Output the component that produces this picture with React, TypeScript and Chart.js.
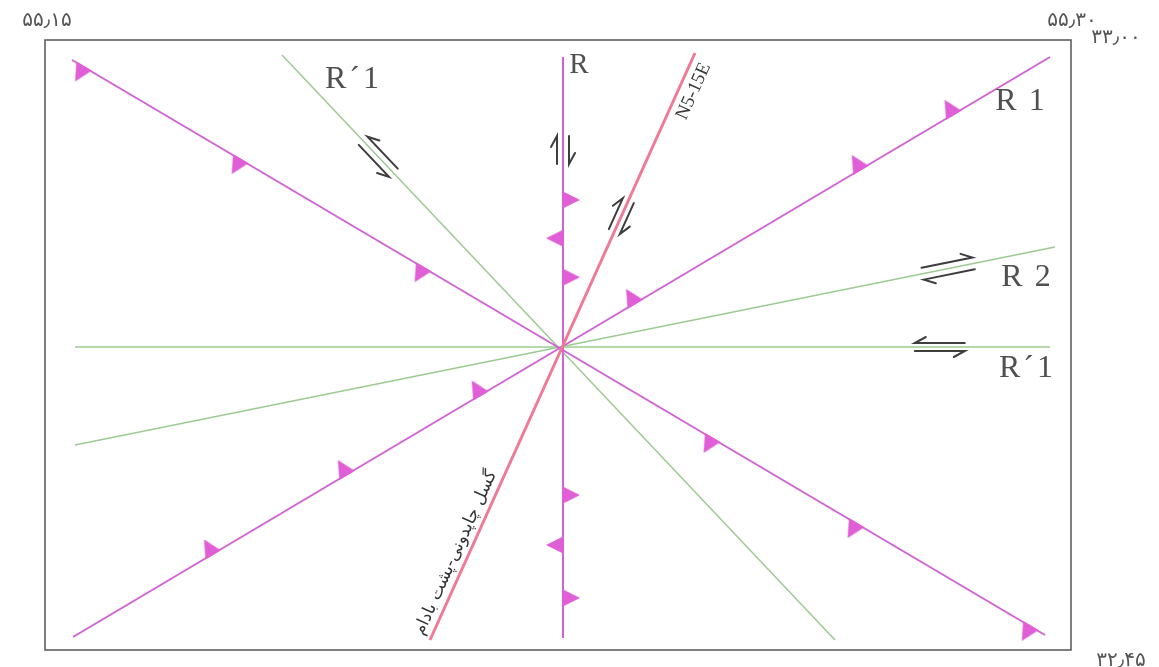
import { useEffect, useRef } from "react";
import { Chart, registerables } from "chart.js";

Chart.register(...registerables);

// Fault traces in frame units (x: 0–1026 from the west edge, y: 0–610 from the south edge)
const faultNames = ["R", "N5-15E", "R1", "NW-SE thrust", "R´1 NW", "R2", "R´1 E-W"];
const faultX0 = [518, 385, 28, 27, 237, 30, 30];
const faultY0 = [12, 10, 13, 590, 595, 205, 303];
const faultX1 = [518, 650, 1005, 1000, 790, 1010, 1005];
const faultY1 = [593, 597, 593, 15, 10, 403, 303];
const faultKind = ["thrust", "main", "thrust", "thrust", "riedel", "riedel", "riedel"];

// Thrust teeth: fault index, position along the trace (0–1), side (+1 right-hand, -1 left-hand)
const toothFault = [0, 0, 0, 0, 0, 0, 2, 2, 2, 2, 2, 2, 3, 3, 3, 3, 3, 3];
const toothT = [0.069, 0.16, 0.246, 0.621, 0.688, 0.754, 0.143, 0.28, 0.417, 0.575, 0.806, 0.901, 0.012, 0.173, 0.361, 0.658, 0.806, 0.985];
const toothSide = [1, -1, 1, 1, -1, 1, -1, -1, -1, -1, -1, -1, 1, 1, 1, 1, 1, 1];

// Shear-sense half arrows: fault index, position along the trace, dextral sense
const arrowFault = [0, 1, 4, 5, 6];
const arrowT = [0.84, 0.722, 0.174, 0.891, 0.887];
const arrowDextral = [true, true, false, true, false];

// Text
const traceLabels = ["R", "R´1", "R1", "R2", "R´1"];
const cornerLabels = ["۵۵٫۱۵", "۵۵٫۳۰", "۳۳٫۰۰", "۳۲٫۴۵"];
const mainFaultName = "گسل چاپدونی-پشت بادام";
const mainFaultStrike = "N5-15E";

export default function App() {
  const ref = useRef<HTMLCanvasElement>(null);

  useEffect(() => {
    const canvas = ref.current!;

    const tooth = document.createElement("canvas");
    tooth.width = 48;
    tooth.height = 48;
    const tc = tooth.getContext("2d")!;
    tc.fillStyle = "#e05fd6";
    tc.beginPath();
    tc.moveTo(23, 15);
    tc.lineTo(41, 24);
    tc.lineTo(23, 33);
    tc.closePath();
    tc.fill();

    const screenAngle = (f: number) =>
      (Math.atan2(-(faultY1[f] - faultY0[f]), faultX1[f] - faultX0[f]) * 180) / Math.PI;

    const teethData = toothFault.map((f, i) => ({
      x: faultX0[f] + (faultX1[f] - faultX0[f]) * toothT[i],
      y: faultY0[f] + (faultY1[f] - faultY0[f]) * toothT[i],
    }));
    const teethRot = toothFault.map((f, i) => screenAngle(f) + 90 * toothSide[i]);

    const styleFor = (k: string) =>
      k === "main"
        ? { color: "#f07a93", width: 3 }
        : k === "thrust"
        ? { color: "#d163d4", width: 2 }
        : { color: "#9ccb92", width: 1.5 };

    const faultSets = faultNames.map((name, f) => {
      const s = styleFor(faultKind[f]);
      return {
        label: name,
        data: [
          { x: faultX0[f], y: faultY0[f] },
          { x: faultX1[f], y: faultY1[f] },
        ],
        showLine: true,
        borderColor: s.color,
        borderWidth: s.width,
        pointRadius: 0,
        clip: false as any,
        order: faultKind[f] === "main" ? 1 : faultKind[f] === "thrust" ? 2 : 3,
      };
    });

    const px = (chart: any, x: number, y: number) => ({
      x: chart.scales.x.getPixelForValue(x),
      y: chart.scales.y.getPixelForValue(y),
    });

    const framePlugin = {
      id: "frame",
      beforeDraw(chart: any) {
        const { ctx, chartArea: a } = chart;
        ctx.save();
        ctx.fillStyle = "#ffffff";
        ctx.fillRect(0, 0, chart.width, chart.height);
        ctx.strokeStyle = "#5f5f5f";
        ctx.lineWidth = 1.6;
        ctx.strokeRect(a.left, a.top, a.right - a.left, a.bottom - a.top);
        ctx.restore();
      },
    };

    const arrowLen = [28, 34, 44, 52, 50];
    const arrowGap = [6, 6, 6, 6, 4];
    const arrowPlugin = {
      id: "shearArrows",
      afterDatasetsDraw(chart: any) {
        const ctx = chart.ctx;
        ctx.save();
        ctx.strokeStyle = "#3e3e3e";
        ctx.lineWidth = 2;
        ctx.lineCap = "round";
        arrowFault.forEach((f, i) => {
          const p0 = px(chart, faultX0[f], faultY0[f]);
          const p1 = px(chart, faultX1[f], faultY1[f]);
          const L = Math.hypot(p1.x - p0.x, p1.y - p0.y);
          const u = { x: (p1.x - p0.x) / L, y: (p1.y - p0.y) / L };
          const nl = { x: u.y, y: -u.x };
          const c = { x: p0.x + (p1.x - p0.x) * arrowT[i], y: p0.y + (p1.y - p0.y) * arrowT[i] };
          const half = arrowLen[i] / 2;
          [1, -1].forEach((side) => {
            const forward = (side === 1) === arrowDextral[i];
            const d = forward ? u : { x: -u.x, y: -u.y };
            const o = { x: c.x + nl.x * arrowGap[i] * side, y: c.y + nl.y * arrowGap[i] * side };
            const s = { x: o.x - d.x * half, y: o.y - d.y * half };
            const e = { x: o.x + d.x * half, y: o.y + d.y * half };
            const b = {
              x: e.x - d.x * 11 + nl.x * side * 6,
              y: e.y - d.y * 11 + nl.y * side * 6,
            };
            ctx.beginPath();
            ctx.moveTo(s.x, s.y);
            ctx.lineTo(e.x, e.y);
            ctx.lineTo(b.x, b.y);
            ctx.stroke();
          });
        });
        ctx.restore();
      },
    };

    const labelPos = [
      { x: 534, y: 585, size: 29, sp: 0 },
      { x: 307, y: 570, size: 32, sp: 3 },
      { x: 975, y: 548, size: 32, sp: 12 },
      { x: 981, y: 372, size: 32, sp: 12 },
      { x: 981, y: 281, size: 32, sp: 3 },
    ];
    const cornerPos = [
      { x: 47, y: 21 },
      { x: 1072, y: 21 },
      { x: 1116, y: 38 },
      { x: 1121, y: 661 },
    ];
    const textPlugin = {
      id: "texts",
      afterDraw(chart: any) {
        const ctx = chart.ctx as CanvasRenderingContext2D;
        ctx.save();
        ctx.fillStyle = "#505050";
        ctx.textAlign = "center";
        ctx.textBaseline = "middle";
        traceLabels.forEach((t, i) => {
          const p = px(chart, labelPos[i].x, labelPos[i].y);
          ctx.font = `${labelPos[i].size}px 'Liberation Serif'`;
          (ctx as any).letterSpacing = `${labelPos[i].sp}px`;
          ctx.fillText(t, p.x + labelPos[i].sp / 2, p.y);
        });

        // corner coordinates
        ctx.font = "20px 'DejaVu Sans'";
        (ctx as any).letterSpacing = "2px";
        ctx.fillStyle = "#555555";
        cornerLabels.forEach((t, i) => ctx.fillText(t, cornerPos[i].x, cornerPos[i].y));
        (ctx as any).letterSpacing = "0px";

        // text along the main fault
        const f = 1;
        const p0 = px(chart, faultX0[f], faultY0[f]);
        const p1 = px(chart, faultX1[f], faultY1[f]);
        const ang = Math.atan2(p1.y - p0.y, p1.x - p0.x);
        const at = (t: number) => ({ x: p0.x + (p1.x - p0.x) * t, y: p0.y + (p1.y - p0.y) * t });

        const a1 = at(0.14);
        ctx.save();
        ctx.translate(a1.x, a1.y);
        ctx.rotate(ang);
        ctx.font = "17px 'DejaVu Sans'";
        ctx.fillStyle = "#333";
        ctx.direction = "rtl";
        ctx.textAlign = "center";
        ctx.textBaseline = "alphabetic";
        ctx.fillText(mainFaultName, 0, -8);
        ctx.restore();

        const a2 = at(0.945);
        ctx.save();
        ctx.translate(a2.x, a2.y);
        ctx.rotate(ang);
        ctx.font = "19px 'Liberation Serif'";
        ctx.fillStyle = "#3a3a3a";
        ctx.textAlign = "center";
        ctx.textBaseline = "top";
        ctx.fillText(mainFaultStrike, 0, 5);
        ctx.restore();

        ctx.restore();
      },
    };

    const chart = new Chart(canvas, {
      type: "scatter",
      data: {
        datasets: [
          {
            label: "teeth",
            data: teethData,
            showLine: false,
            pointStyle: tooth as any,
            pointRotation: teethRot,
            pointRadius: 10,
            clip: false as any,
            order: 0,
          } as any,
          ...faultSets,
        ],
      },
      options: {
        responsive: false,
        animation: false,
        events: [],
        layout: { padding: { left: 45, top: 40, right: 88, bottom: 17 } },
        scales: {
          x: { type: "linear", min: 0, max: 1026, display: false },
          y: { type: "linear", min: 0, max: 610, display: false },
        },
        plugins: { legend: { display: false }, tooltip: { enabled: false } },
      },
      plugins: [framePlugin, arrowPlugin, textPlugin],
    });
    return () => chart.destroy();
  }, []);

  return (
    <div style={{ position: "fixed", left: 0, top: 0, width: 1159, height: 667, background: "#fff" }}>
      <canvas ref={ref} width={1159} height={667} style={{ width: 1159, height: 667 }} />
    </div>
  );
}
